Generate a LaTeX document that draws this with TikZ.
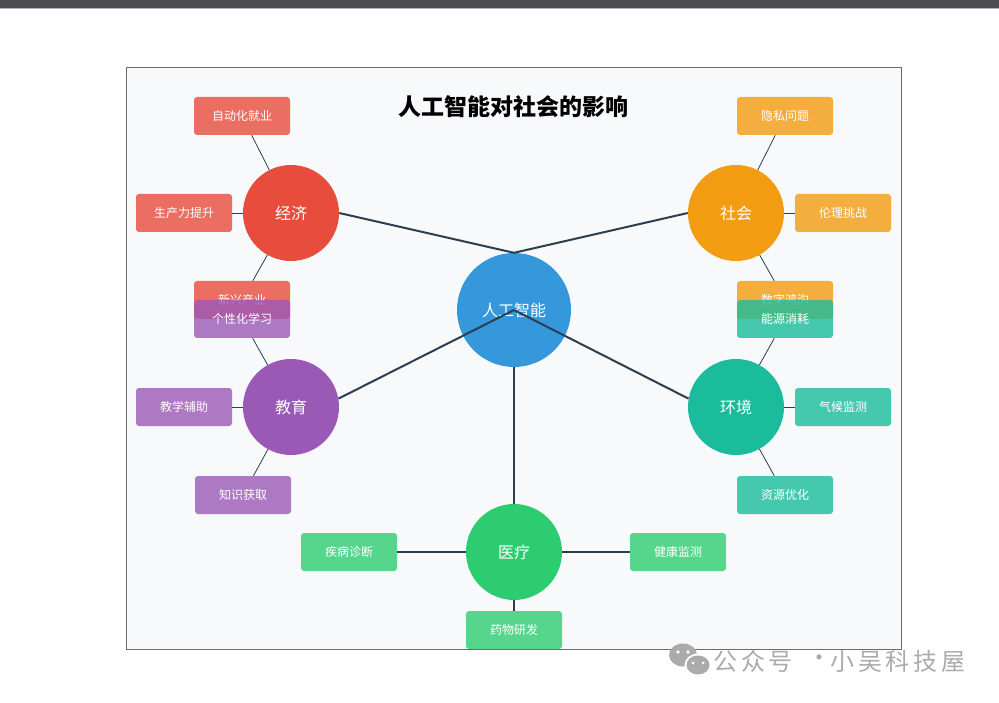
\documentclass[tikz,border=0pt]{standalone}
\usepackage{fontspec}
\setmainfont{Noto Sans CJK SC}
\usetikzlibrary{shapes.geometric}
\definecolor{topbar}{HTML}{504D52}
\definecolor{bgc}{HTML}{F8F9FB}
\definecolor{framec}{HTML}{6B6B6B}
\definecolor{cred}{HTML}{E74C3C}
\definecolor{corange}{HTML}{F39C12}
\definecolor{cpurple}{HTML}{9B59B6}
\definecolor{cteal}{HTML}{1ABC9C}
\definecolor{cgreen}{HTML}{2ECC71}
\definecolor{cblue}{HTML}{3498DB}
\definecolor{cline}{HTML}{2C3E50}
\definecolor{wmark}{HTML}{ABABAB}
\tikzset{
  maincirc/.style={circle, draw=none, inner sep=0pt, minimum size=96pt, text=white, font=\fontsize{16pt}{18pt}\selectfont},
  subbox/.style={rectangle, rounded corners=3pt, draw=none, minimum width=96pt, minimum height=38pt, inner sep=0pt, fill opacity=0.8, text opacity=1, text=white, font=\fontsize{12pt}{14pt}\selectfont},
  mainline/.style={draw=cline, line width=2pt},
  subline/.style={draw=cline, line width=0.8pt},
  wmtext/.style={anchor=west, text=wmark, inner sep=0pt, font=\fontsize{24pt}{28pt}\selectfont\addfontfeature{LetterSpace=16}},
}
\begin{document}
\begin{tikzpicture}[x=1pt,y=-1pt]
\useasboundingbox (0,0) rectangle (999,703);
\fill[white] (0,0) rectangle (999,703);
\fill[topbar] (0,0) rectangle (999,8);
\draw[gray!60, line width=0.8pt] (0,8.6) -- (999,8.6);
\draw[framec, fill=bgc, line width=0.8pt] (126,67) rectangle (901,649);

% title
\node[font=\fontsize{23pt}{27pt}\selectfont\bfseries, text=black] (title) at (513,107) {人工智能对社会的影响};

% main circles
\node[maincirc, fill=cblue, minimum size=114pt] (ai) at (514,310) {人工智能};
\node[maincirc, fill=cred] (econ) at (291,213) {经济};
\node[maincirc, fill=corange] (soc) at (736,213) {社会};
\node[maincirc, fill=cpurple] (edu) at (291,407) {教育};
\node[maincirc, fill=cteal] (env) at (736,407) {环境};
\node[maincirc, fill=cgreen] (med) at (514,552) {医疗};

% sub boxes
\node[subbox, fill=cred] (auto) at (242,116) {自动化就业};
\node[subbox, fill=cred] (prod) at (184,213) {生产力提升};
\node[subbox, fill=cred] (newind) at (242,300) {新兴产业};
\node[subbox, fill=cpurple] (pers) at (242,319) {个性化学习};
\node[subbox, fill=cpurple] (teach) at (184,407) {教学辅助};
\node[subbox, fill=cpurple] (know) at (243,495) {知识获取};

\node[subbox, fill=corange] (priv) at (785,116) {隐私问题};
\node[subbox, fill=corange] (eth) at (843,213) {伦理挑战};
\node[subbox, fill=corange] (gap) at (785,300) {数字鸿沟};
\node[subbox, fill=cteal] (energy) at (785,319) {能源消耗};
\node[subbox, fill=cteal] (climate) at (843,407) {气候监测};
\node[subbox, fill=cteal] (eco) at (785,495) {资源优化};

\node[subbox, fill=cgreen] (diag) at (349,552) {疾病诊断};
\node[subbox, fill=cgreen] (health) at (678,552) {健康监测};
\node[subbox, fill=cgreen] (drug) at (514,630) {药物研发};

% sub connectors
\draw[subline] (auto) -- (econ);
\draw[subline] (prod) -- (econ);
\draw[subline] (newind) -- (econ);
\draw[subline] (pers) -- (edu);
\draw[subline] (teach) -- (edu);
\draw[subline] (know) -- (edu);
\draw[subline] (priv) -- (soc);
\draw[subline] (eth) -- (soc);
\draw[subline] (gap) -- (soc);
\draw[subline] (energy) -- (env);
\draw[subline] (climate) -- (env);
\draw[subline] (eco) -- (env);
\draw[subline, line width=1.5pt] (diag) -- (med);
\draw[subline, line width=1.5pt] (health) -- (med);
\draw[subline, line width=1.5pt] (drug) -- (med);

% main connectors
\draw[mainline] (econ.east) -- (ai.north);
\draw[mainline] (soc.west) -- (ai.north);
\draw[mainline] (edu.10) -- (ai.center);
\draw[mainline] (env.170) -- (ai.center);
\draw[mainline] (ai.south) -- (med.north);

% watermark
\fill[wmark] (683,655) ellipse (14pt and 11.5pt);
\fill[white] (698,665) ellipse (13.5pt and 11.5pt);
\fill[wmark] (698,665) ellipse (11.5pt and 9.5pt);
\fill[white] (678,652) circle (1.8pt) (688,652) circle (1.8pt);
\fill[white] (693,663) circle (1.5pt) (703,663) circle (1.5pt);
\node[wmtext] (wm1) at (713,661) {公众号};
\node[wmtext] (wm2) at (807,661) {·};
\node[wmtext] (wm3) at (830,661) {小吴科技屋};
\end{tikzpicture}
\end{document}
